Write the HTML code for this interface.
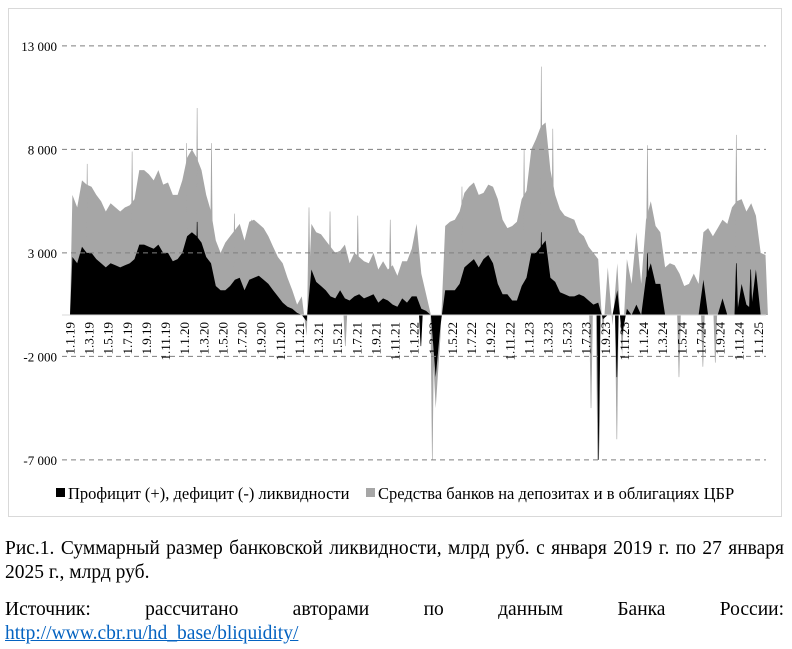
<!DOCTYPE html>
<html><head><meta charset="utf-8">
<style>
body{margin:0;background:#fff;width:792px;height:649px;overflow:hidden;font-family:"Liberation Serif",serif;}
#frame{position:absolute;left:8px;top:8px;width:774px;height:509px;border:1px solid #d9d9d9;box-sizing:border-box;}
.cap{position:absolute;left:5px;width:779px;font-size:19.5px;line-height:24px;color:#000;text-align:justify;white-space:nowrap;}
.j{text-align-last:justify;}
a{color:#0563c1;}
</style></head>
<body>
<div id="frame"></div>
<svg id="chart" width="792" height="520" style="position:absolute;left:0;top:0"></svg>
<div class="cap j" style="top:537px">Рис.1. Суммарный размер банковской ликвидности, млрд руб. с января 2019 г. по 27 января</div>
<div class="cap" style="top:561px">2025 г., млрд руб.</div>
<div class="cap j" style="top:598px">Источник: рассчитано авторами по данным Банка России:</div>
<div class="cap" style="top:622px"><a href="#">http://www.cbr.ru/hd_base/bliquidity/</a></div>
<script>
const yTicks=[13000,8000,3000,-2000,-7000];
const yTickLabels=["13 000","8 000","3 000","-2 000","-7 000"];
const xLabels=["1.1.19","1.3.19","1.5.19","1.7.19","1.9.19","1.11.19","1.1.20","1.3.20","1.5.20","1.7.20","1.9.20","1.11.20","1.1.21","1.3.21","1.5.21","1.7.21","1.9.21","1.11.21","1.1.22","1.3.22","1.5.22","1.7.22","1.9.22","1.11.22","1.1.23","1.3.23","1.5.23","1.7.23","1.9.23","1.11.23","1.1.24","1.3.24","1.5.24","1.7.24","1.9.24","1.11.24","1.1.25"];
// semi-monthly values, thousand bn rub
const deposits=[5.8,5.2,6.5,6.3,6.2,5.8,5.5,5.0,5.4,5.2,5.0,5.2,5.3,5.6,7.0,7.0,6.8,6.5,7.0,6.3,6.4,5.8,5.8,6.5,
7.6,8.0,7.6,7.0,5.8,5.0,3.6,3.0,3.5,3.8,4.1,4.4,3.6,4.5,4.6,4.4,4.2,3.8,3.3,2.8,2.5,1.8,1.2,0.5,
0.9,-1.0,4.4,4.0,3.9,3.6,3.3,3.0,3.1,3.4,2.5,3.0,2.8,2.6,2.5,3.0,2.2,2.6,2.2,2.4,1.9,2.6,2.6,3.2,
4.4,2.0,1.0,0.0,-4.5,-1.0,4.3,4.5,4.6,5.0,5.9,6.2,6.4,5.8,5.9,6.3,6.2,5.6,4.6,4.2,4.3,4.5,5.6,6.0,
8.0,8.5,9.1,9.3,7.0,5.8,5.1,4.8,4.7,4.6,4.0,3.8,3.3,3.0,2.7,-1.0,2.3,-0.5,2.5,-2.0,2.7,1.5,4.0,1.5,
4.6,5.5,4.3,4.0,2.3,2.5,2.4,2.0,1.4,1.5,2.0,1.5,4.0,4.2,3.8,4.2,4.6,4.4,5.2,5.5,5.6,5.0,5.4,4.8,
3.0,2.9];
const surplus=[2.8,2.5,3.3,3.0,3.0,2.7,2.5,2.3,2.5,2.4,2.3,2.4,2.5,2.7,3.4,3.4,3.3,3.2,3.4,3.0,3.0,2.6,2.7,3.0,
3.8,4.0,3.8,3.5,2.8,2.5,1.4,1.2,1.2,1.4,1.7,1.8,1.2,1.7,1.8,1.9,1.7,1.5,1.2,0.9,0.6,0.4,0.3,0.1,
0,-0.3,2.2,1.6,1.4,1.2,0.9,0.8,1.2,0.8,0.7,0.9,1.0,0.8,0.9,1.0,0.6,0.8,0.7,0.5,0.4,0.8,0.6,0.9,
0.9,0.3,0.2,0.0,-3.0,-0.5,1.2,1.2,1.2,1.5,2.3,2.5,2.7,2.3,2.7,2.9,2.5,1.5,1.0,1.0,0.7,0.7,1.4,1.8,
3.0,3.0,3.3,3.6,1.8,1.6,1.1,1.0,0.9,0.9,1.0,0.9,0.7,0.5,0.6,-0.2,0,0,1.2,-1.0,0.3,0,0.5,0,
1.8,2.5,1.5,1.5,0,0,0,0,0,0,0,0,1.7,0,0,0,0.8,0,0,0,1.5,0.5,0.3,2.2,
0,0];
// spikes: month offset since Jan 2019, value
const depositSpikeMonths=[1.8,6.5,12.2,13.3,14.8,17.2,19.0,25.0,27.2,30.1,33.5,37.9,41.0,47.5,49.3,50.5,54.5,55.2,57.2,60.4,63.7,66.2,67.5,69.7,28.8];
const depositSpikeValues=[7.3,7.9,8.3,10.0,8.3,4.9,4.6,5.2,5.0,4.8,4.6,-7.0,6.2,8.0,12.0,9.0,-4.5,-7.0,-6.0,8.2,-3.0,-2.5,-2.3,8.7,-1.5];
const surplusSpikeMonths=[13.3,49.3,55.3,57.2,60.4,69.7,71.2,36.7];
const surplusSpikeValues=[4.5,4.0,-7.0,-3.0,3.0,2.5,2.2,-1.5];

const svg=document.getElementById('chart');
const NS='http://www.w3.org/2000/svg';
function yS(v){return 315-v*20.7/1000;}
function yK(v){return yS(v*1000);}
function xM(m){return 70+m*9.56;}
function mk(t,a){const e=document.createElementNS(NS,t);for(const k in a)e.setAttribute(k,a[k]);svg.appendChild(e);return e;}
function area(vals,fill,name){
  let d='M'+xM(0)+','+yK(0);
  vals.forEach((v,i)=>{d+=' L'+xM(i/2+0.25).toFixed(1)+','+yK(v).toFixed(1);});
  d+=' L'+xM(vals.length/2).toFixed(1)+','+yK(0)+' Z';
  const p=mk('path',{d:d,fill:fill});
  
  
}
function spikes(ms,vs,col,name){
  ms.forEach((m,i)=>{
    const x=xM(m);
    const p=mk('polygon',{points:(x-1.5)+','+yK(0)+' '+x+','+yK(vs[i])+' '+(x+1.5)+','+yK(0),fill:col,stroke:col,'stroke-width':0.6});
    
    
  });
}
area(deposits,'#a6a6a6','deposits-area');
spikes(depositSpikeMonths,depositSpikeValues,'#a6a6a6','deposits-spike');
area(surplus,'#000','surplus-area');
spikes(surplusSpikeMonths,surplusSpikeValues,'#000','surplus-spike');
yTicks.forEach((t,i)=>{
  const l=mk('line',{x1:62,x2:766,y1:yS(t),y2:yS(t),stroke:'#7f7f7f','stroke-width':1,'stroke-dasharray':'5,4'});
  
  
  const tx=mk('text',{x:57,y:yS(t)+5,'text-anchor':'end','font-size':13,'font-family':'Liberation Serif, serif',fill:'#000'});
  tx.textContent=yTickLabels[i];
  
  
});
const ax=mk('line',{x1:62,x2:766,y1:yS(0),y2:yS(0),stroke:'#d9d9d9','stroke-width':1});


xLabels.forEach((lab,i)=>{
  const x=xM(i*2);
  const tx=mk('text',{x:0,y:0,transform:'translate('+(x+4.5)+',322) rotate(-90)','text-anchor':'end','font-size':13,'font-family':'Liberation Serif, serif',fill:'#000'});
  tx.textContent=lab;
  
  
});
const r1=mk('rect',{x:56,y:488,width:9,height:9,fill:'#000'});


const t1=mk('text',{x:68,y:499,'font-size':16.5,'font-family':'Liberation Serif, serif'});
t1.textContent='Профицит (+), дефицит (-) ликвидности';


const r2=mk('rect',{x:366,y:488,width:9,height:9,fill:'#a6a6a6'});


const t2=mk('text',{x:378,y:499,'font-size':16.5,'font-family':'Liberation Serif, serif'});
t2.textContent='Средства банков на депозитах и в облигациях ЦБР';


</script>
</body></html>
